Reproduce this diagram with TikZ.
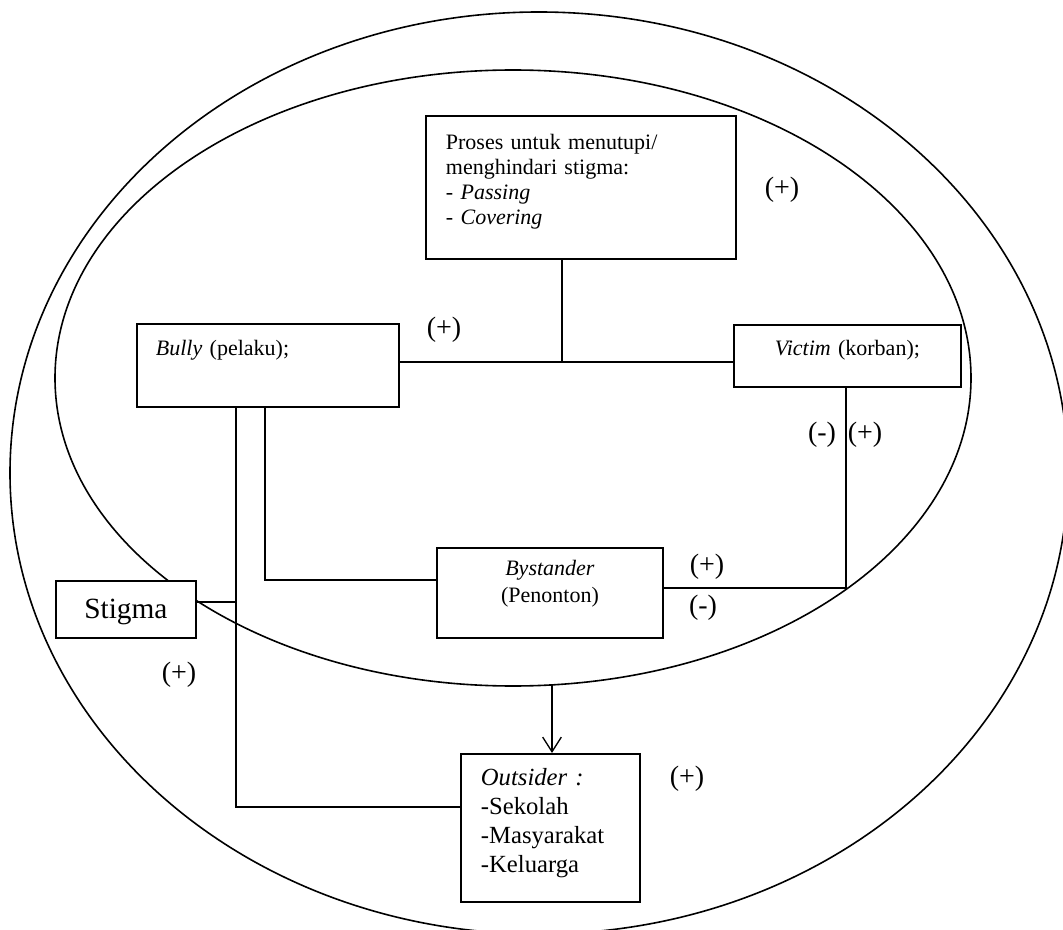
\documentclass[tikz,border=0pt]{standalone}
\usepackage{fontspec}
\setmainfont{Liberation Serif}
\usetikzlibrary{arrows.meta,positioning}

\tikzset{
  panel/.style={draw, fill=white, line width=1.4pt, anchor=north west, inner ysep=0pt},
  link/.style={line width=1pt},
  ring/.style={line width=1.2pt},
  sign/.style={inner sep=0pt, font=\fontsize{21}{24}\selectfont},
}

\begin{document}
\begin{tikzpicture}[x=0.75pt, y=-0.75pt, every node/.style={font=\fontsize{16.5}{18.75}\selectfont}]
  \useasboundingbox (0,0) rectangle (1063,930);
  % outer and inner circle
  \draw[ring] (539,473) ellipse [x radius=529, y radius=461];
  \draw[ring] (513,378) ellipse [x radius=458, y radius=308];

  % boxes
  \node[panel, inner xsep=15pt, text width=202.5pt, align=left, text height=25pt, text depth=82.25pt]
       (proses) at (425,115) {Proses untuk menutupi/\\menghindari stigma:\\- \textit{Passing}\\- \textit{Covering}};
  \node[panel, inner xsep=14.25pt, text width=168pt, align=left, text height=24pt, text depth=38.25pt]
       (bully) at (136,323) {\textit{Bully} (pelaku);};
  \node[panel, inner xsep=0pt, text width=170.25pt, align=center, text height=23.25pt, text depth=23.25pt]
       (victim) at (733,324) {\textit{Victim} (korban);};
  \node[panel, inner xsep=0pt, text width=169.5pt, align=center, text height=21pt, text depth=46.5pt,
        font=\fontsize{16.5}{20.25}\selectfont]
       (bystander) at (436,547) {\textit{Bystander}\\(Penonton)};
  \node[panel, inner xsep=0pt, text width=105pt, align=center, text height=28.5pt, text depth=14.25pt,
        font=\fontsize{22}{26}\selectfont]
       (stigma) at (55,580) {Stigma};
  \node[panel, inner xsep=15pt, text width=104.25pt, align=left, text height=24pt, text depth=87pt,
        font=\fontsize{18.5}{21.75}\selectfont]
       (outsider) at (460,753) {\textit{Outsider :}\\-Sekolah\\-Masyarakat\\-Keluarga};

  % junctions
  \coordinate (hub) at (562,362);
  \coordinate (corner) at (846,588);
  \coordinate (bend1) at (265,580);
  \coordinate (bend2) at (236,807);
  \coordinate (tap) at (236,602);
  \coordinate (innerlow) at (552,685);

  % connectors
  \draw[link] (proses.south -| hub) -- (hub);
  \draw[link] (bully.east |- hub) -- (victim.west |- hub);
  \draw[link] (victim.south -| corner) -- (corner) -- (bystander.east |- corner);
  \draw[link] (bully.south -| bend1) -- (bend1) -- (bystander.west |- bend1);
  \draw[link] (bully.south -| bend2) -- (bend2) -- (outsider.west |- bend2);
  \draw[link] (stigma.east |- tap) -- (tap);
  \draw[link, -{Straight Barb[length=11pt, width=14pt]}] (innerlow) -- (innerlow |- outsider.north);

  % signs
  \node[sign] (s1) at (782,190) {(+)};
  \node[sign] (s2) at (444,330) {(+)};
  \node[sign] (s3) at (822,435) {(-)};
  \node[sign] (s4) at (865,435) {(+)};
  \node[sign] (s5) at (707,567) {(+)};
  \node[sign] (s6) at (703,608) {(-)};
  \node[sign] (s7) at (179,675) {(+)};
  \node[sign] (s8) at (687,779) {(+)};
\end{tikzpicture}
\end{document}
